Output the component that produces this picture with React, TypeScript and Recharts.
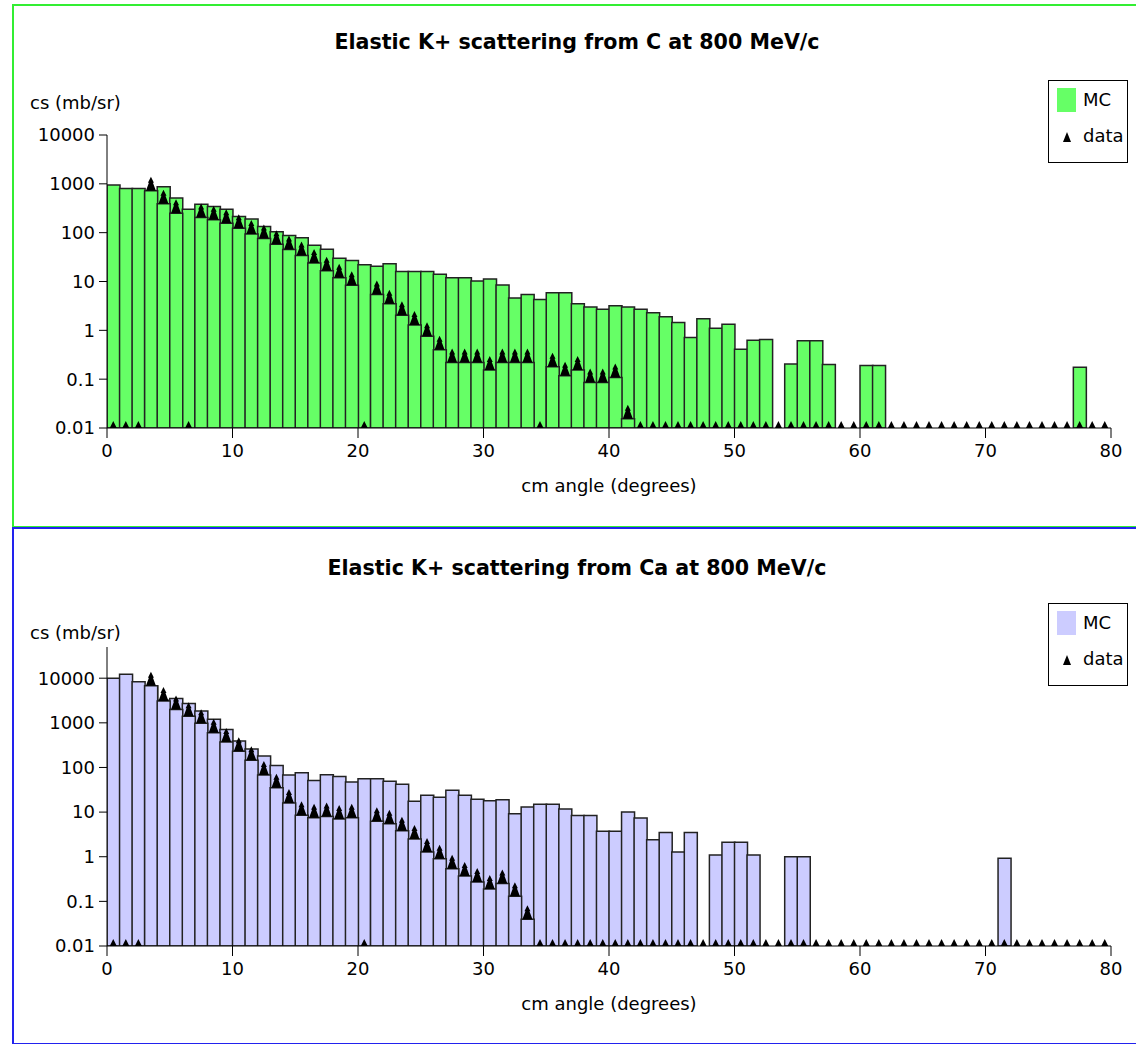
import React from 'react';
import { ComposedChart, Bar, Scatter, XAxis, YAxis } from 'recharts';

// bin centres (cm angle, degrees), 1 degree bins from 0 to 80
const angles = [
  0.5, 1.5, 2.5, 3.5, 4.5, 5.5, 6.5, 7.5, 8.5, 9.5,
  10.5, 11.5, 12.5, 13.5, 14.5, 15.5, 16.5, 17.5, 18.5, 19.5,
  20.5, 21.5, 22.5, 23.5, 24.5, 25.5, 26.5, 27.5, 28.5, 29.5,
  30.5, 31.5, 32.5, 33.5, 34.5, 35.5, 36.5, 37.5, 38.5, 39.5,
  40.5, 41.5, 42.5, 43.5, 44.5, 45.5, 46.5, 47.5, 48.5, 49.5,
  50.5, 51.5, 52.5, 53.5, 54.5, 55.5, 56.5, 57.5, 58.5, 59.5,
  60.5, 61.5, 62.5, 63.5, 64.5, 65.5, 66.5, 67.5, 68.5, 69.5,
  70.5, 71.5, 72.5, 73.5, 74.5, 75.5, 76.5, 77.5, 78.5, 79.5,
];

const xTicks = [0, 10, 20, 30, 40, 50, 60, 70, 80];
const yTicks = [0.01, 0.1, 1, 10, 100, 1000, 10000];

// Carbon, MC histogram (null = empty bin)
const mcCarbon = [
  950, 800, 800, 700, 870, 510, 300, 380, 345, 300,
  215, 190, 133, 105, 87, 79, 55, 46, 30, 27,
  22, 20.5, 23, 16, 16, 16, 14, 12, 12, 10.2,
  11.2, 8.5, 4.6, 5.4, 4.3, 5.9, 5.9, 3.5, 3.0, 2.7,
  3.2, 3.0, 2.7, 2.3, 1.9, 1.45, 0.71, 1.72, 1.1, 1.33,
  0.41, 0.63, 0.65, null, 0.205, 0.61, 0.61, 0.2, null, null,
  0.19, 0.19, null, null, null, null, null, null, null, null,
  null, null, null, null, null, null, null, 0.175, null, null,
];

// Carbon, measured cross section (0 = no data)
const dataCarbon = [
  0, 0, 0, 720, 390, 250, 0, 205, 183, 155,
  123, 94, 76, 58, 45, 34, 24, 16.6, 12, 8.4,
  0, 5.4, 3.5, 2.04, 1.29, 0.76, 0.4, 0.22, 0.22, 0.22,
  0.154, 0.22, 0.22, 0.22, 0, 0.18, 0.117, 0.154, 0.085, 0.085,
  0.108, 0.0155, 0, 0, 0, 0, 0, 0, 0, 0,
  0, 0, 0, 0, 0, 0, 0, 0, 0, 0,
  0, 0, 0, 0, 0, 0, 0, 0, 0, 0,
  0, 0, 0, 0, 0, 0, 0, 0, 0, 0,
];

// Calcium, MC histogram
const mcCalcium = [
  10000, 12300, 8300, 6700, 3200, 3500, 2700, 1850, 1200, 710,
  390, 260, 180, 110, 68, 76, 51, 69, 63, 47,
  56, 56, 49, 42, 17.5, 24, 21.5, 31, 24, 19.5,
  18, 19, 9.2, 13, 15, 15, 11.7, 8.4, 8.4, 3.7,
  3.7, 10, 7.4, 2.4, 3.5, 1.27, 3.5, null, 1.1, 2.1,
  2.1, 1.1, null, null, 1.0, 1.0, null, null, null, null,
  null, null, null, null, null, null, null, null, null, null,
  null, 0.93, null, null, null, null, null, null, null, null,
];

// Calcium, measured cross section
const dataCalcium = [
  0, 0, 0, 6800, 3100, 2000, 1400, 980, 600, 370,
  230, 145, 68, 35, 16, 8.5, 7.5, 8, 7, 7.5,
  0, 6.2, 5.5, 3.8, 2.5, 1.27, 0.9, 0.54, 0.37, 0.27,
  0.19, 0.25, 0.13, 0.04, 0, 0, 0, 0, 0, 0,
  0, 0, 0, 0, 0, 0, 0, 0, 0, 0,
  0, 0, 0, 0, 0, 0, 0, 0, 0, 0,
  0, 0, 0, 0, 0, 0, 0, 0, 0, 0,
  0, 0, 0, 0, 0, 0, 0, 0, 0, 0,
];

const FONT = '"DejaVu Sans", sans-serif';
const Y_FLOOR = 0.01;

const buildRows = (mc: (number | null)[], obs: number[]) =>
  angles.map((x, i) => ({
    x,
    mc: mc[i],
    obs: obs[i] > 0 ? obs[i] : null,
    mark: obs[i] > 0 ? obs[i] : Y_FLOOR,
    zero: obs[i] === 0,
  }));

const DataMark = (props: any) => {
  const { cx, cy, payload } = props;
  if (cx == null || cy == null) return null;
  if (payload.zero) {
    return <path d={`M${cx - 3.5},${cy}L${cx + 3.5},${cy}L${cx},${cy - 7}Z`} fill="#000" />;
  }
  const d = `M${cx},${cy - 14}L${cx + 3},${cy - 8}L${cx + 2},${cy - 8}L${cx + 5},${cy}` +
    `L${cx - 5},${cy}L${cx - 2},${cy - 8}L${cx - 3},${cy - 8}Z`;
  return <path d={d} fill="#000" />;
};

const LegendBox = ({ top, fill }: { top: number; fill: string }) => (
  <div style={{
    position: 'absolute', left: 1048, top, width: 78, height: 81,
    border: '1.5px solid #000', background: '#fff', fontFamily: FONT, fontSize: 18,
  }}>
    <div style={{ position: 'absolute', left: 8, top: 7, width: 19, height: 24, background: fill }} />
    <div style={{ position: 'absolute', left: 34, top: 8, lineHeight: '22px' }}>MC</div>
    <svg style={{ position: 'absolute', left: 13, top: 50 }} width={10} height={12}>
      <path d="M5,1L9,11L1,11Z" fill="#000" />
    </svg>
    <div style={{ position: 'absolute', left: 34, top: 44, lineHeight: '22px' }}>data</div>
  </div>
);

interface PanelProps {
  top: number;
  height: number;
  title: string;
  mc: (number | null)[];
  obs: number[];
  fill: string;
  border: string;
  yMax: number;
  marginTop: number;
  marginBottom: number;
  titleTop: number;
  yLabelTop: number;
  legendTop: number;
}

const Panel = (p: PanelProps) => {
  const rows = buildRows(p.mc, p.obs);
  const tickStyle = { fill: '#000', fontSize: 18, fontFamily: FONT };
  return (
    <>
      <div style={{
        position: 'absolute', left: 12, top: p.top, width: 1140, height: p.height - 3,
        border: `2px solid ${p.border}`,
      }} />
      <div style={{
        position: 'absolute', left: 9, top: p.titleTop, width: 1136, textAlign: 'center',
        fontFamily: FONT, fontSize: 20.6, fontWeight: 'bold', lineHeight: '24px',
      }}>{p.title}</div>
      <div style={{
        position: 'absolute', left: 30, top: p.yLabelTop, fontFamily: FONT, fontSize: 18, lineHeight: '22px',
      }}>cs (mb/sr)</div>
      <div style={{ position: 'absolute', left: 0, top: p.top }}>
        <ComposedChart
          width={1136}
          height={p.height}
          data={rows}
          barCategoryGap={0}
          barGap={0}
          margin={{ top: p.marginTop, right: 25, bottom: p.marginBottom, left: 47 }}
        >
          <XAxis
            dataKey="x"
            type="number"
            domain={[0, 80]}
            ticks={xTicks}
            allowDataOverflow
            height={80}
            tickSize={10}
            tickMargin={6}
            stroke="#000"
            tick={tickStyle}
            label={{ value: 'cm angle (degrees)', position: 'insideBottom', offset: 16, fill: '#000', fontSize: 18, fontFamily: FONT }}
          />
          <XAxis xAxisId="d" dataKey="x" type="number" domain={[0, 80]} allowDataOverflow hide />
          <YAxis
            scale="log"
            domain={[Y_FLOOR, p.yMax]}
            ticks={yTicks}
            allowDataOverflow
            width={60}
            tickSize={8}
            tickMargin={4}
            stroke="#000"
            tick={tickStyle}
          />
          <Bar dataKey="mc" name="MC" fill={p.fill} stroke="#222" strokeWidth={1.5} isAnimationActive={false} />
          <Bar dataKey="obs" xAxisId="d" name="data hist" fill={p.fill} stroke="#222" strokeWidth={1.5} isAnimationActive={false} />
          <Scatter dataKey="mark" xAxisId="d" name="data" shape={DataMark} isAnimationActive={false} />
        </ComposedChart>
      </div>
      <LegendBox top={p.legendTop} fill={p.fill} />
    </>
  );
};

export default function App() {
  return (
    <div style={{ position: 'absolute', left: 0, top: 0, width: 1136, height: 1044, overflow: 'hidden', background: '#fff' }}>
      <Panel
        top={4} height={523}
        title="Elastic K+ scattering from C at 800 MeV/c"
        mc={mcCarbon} obs={dataCarbon}
        fill="#66ff66" border="#33ee33"
        yMax={10000} marginTop={131} marginBottom={19}
        titleTop={30} yLabelTop={92} legendTop={80}
      />
      <Panel
        top={527} height={517}
        title="Elastic K+ scattering from Ca at 800 MeV/c"
        mc={mcCalcium} obs={dataCalcium}
        fill="#ccccff" border="#2222ee"
        yMax={50000} marginTop={120} marginBottom={18}
        titleTop={556} yLabelTop={622} legendTop={603}
      />
    </div>
  );
}
